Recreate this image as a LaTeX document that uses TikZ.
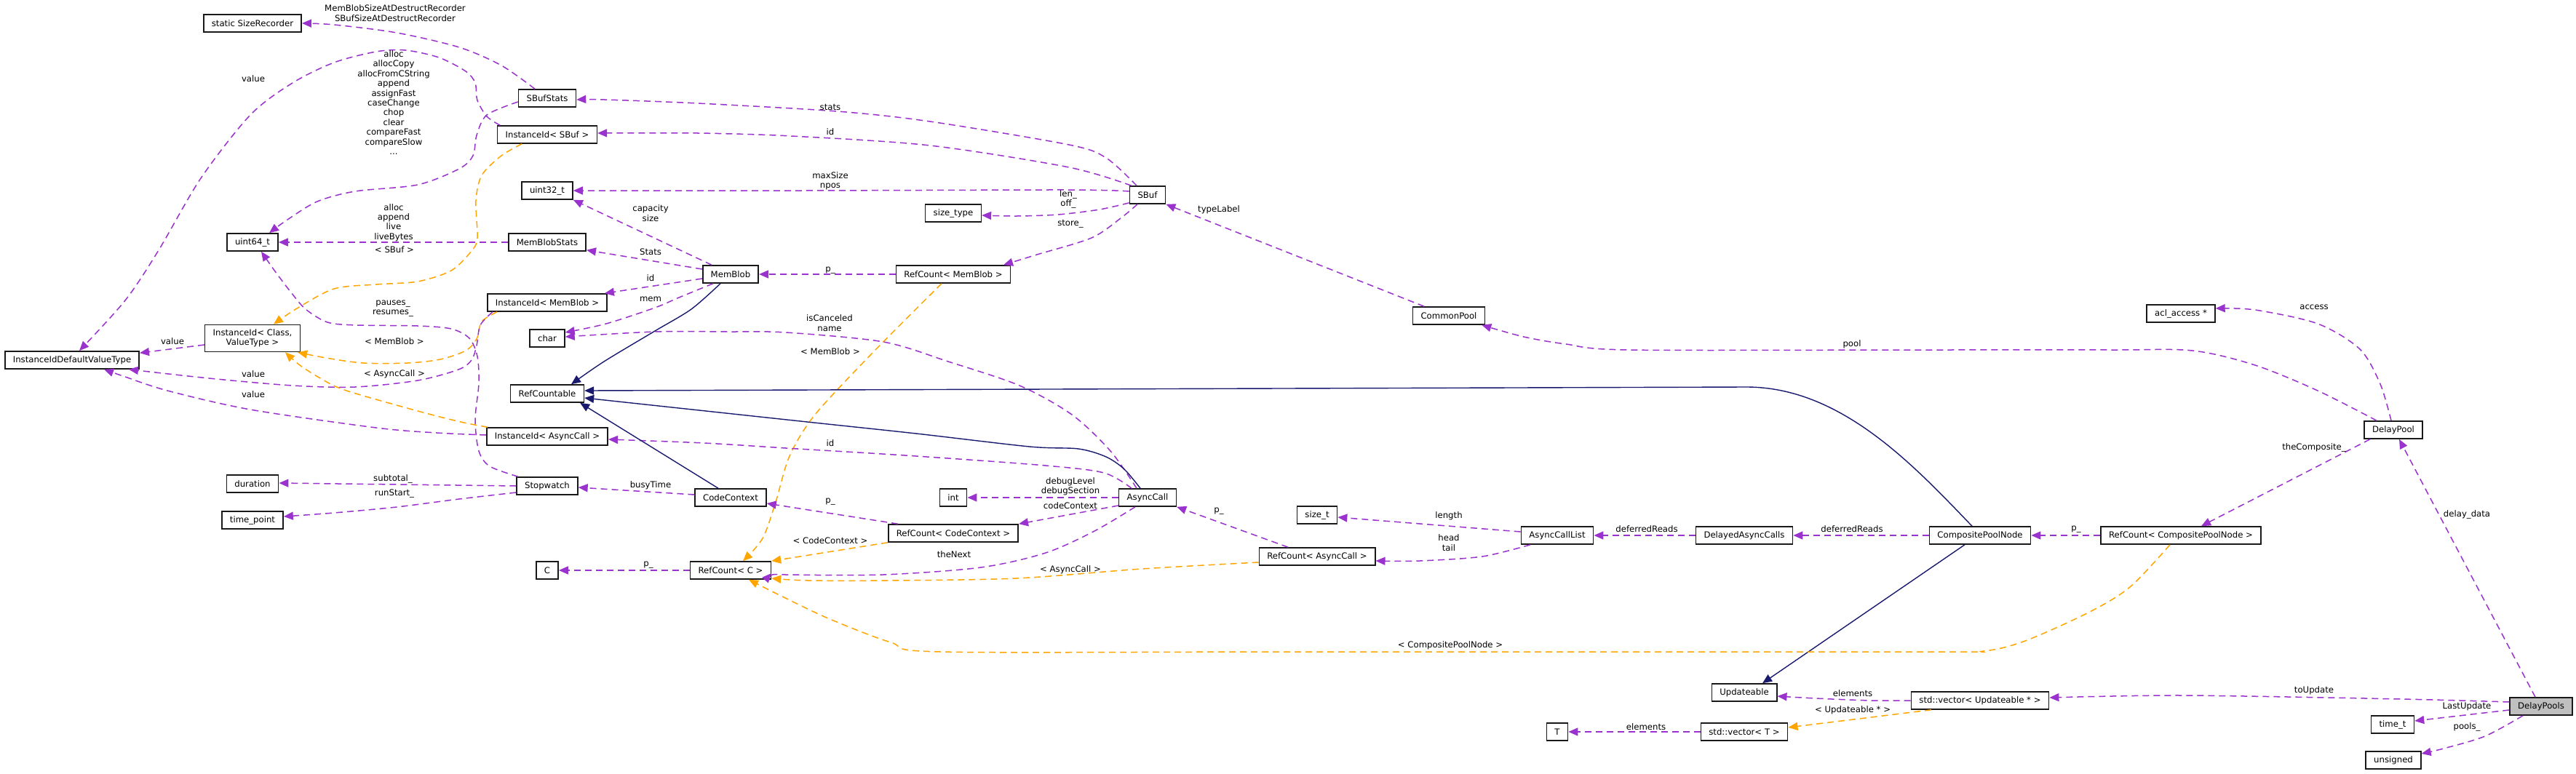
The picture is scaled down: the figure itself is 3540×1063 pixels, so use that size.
\documentclass[tikz,border=0pt]{standalone}
\usepackage{fontspec}
\setmainfont{DejaVu Sans}
\usetikzlibrary{arrows.meta,calc}
\definecolor{dpurple}{HTML}{9A32CD}
\definecolor{dorange}{HTML}{FFA500}
\definecolor{dnavy}{HTML}{191970}
\definecolor{dgray}{HTML}{BFBFBF}
\newcommand\dgfont{\fontsize{11.7}{13.4}\selectfont}
\begin{document}
\begin{tikzpicture}[x=1pt,y=-1pt,
  box/.style={draw=black!90, line width=1.6pt, fill=white, minimum height=24pt, inner xsep=11pt, inner ysep=2pt, font=\dgfont},
  lab/.style={font=\dgfont, align=center, inner sep=0pt},
  tip/.style={-{Triangle[length=13pt,width=11pt]}},
  pe/.style={draw=dpurple, line width=1.5pt, dash pattern=on 9pt off 6pt, tip, color=dpurple},
  oe/.style={draw=dorange, line width=1.5pt, dash pattern=on 9pt off 6pt, tip, color=dorange},
  ie/.style={draw=dnavy, line width=1.4pt, tip, color=dnavy}]
\fill[white] (0,0) rectangle (3540,1063);
\useasboundingbox (0,0) rectangle (3540,1063);

% nodes
\node[box] (sizerec) at (347,32) {static SizeRecorder};
\node[box] (sbufstats) at (752,135) {SBufStats};
\node[box] (iidsbuf) at (752,185) {InstanceId< SBuf >};
\node[box] (u32) at (752,262) {uint32\_t};
\node[box] (u64) at (347,333) {uint64\_t};
\node[box] (mbstats) at (752,333) {MemBlobStats};
\node[box] (iidmb) at (752,416) {InstanceId< MemBlob >};
\node[box] (chr) at (752,465) {char};
\node[box, align=center, minimum height=37pt] (iidcv) at (347,465) {InstanceId< Class,\\ValueType >};
\node[box] (iidvt) at (99,495) {InstanceIdDefaultValueType};
\node[box] (refcountable) at (752,541) {RefCountable};
\node[box] (iidac) at (752,600) {InstanceId< AsyncCall >};
\node[box] (stopwatch) at (752,668) {Stopwatch};
\node[box] (codectx) at (1004,684) {CodeContext};
\node[box] (memblob) at (1004,377) {MemBlob};
\node[box] (duration) at (347,665) {duration};
\node[box] (timepoint) at (347,715) {time\_point};
\node[box] (cc) at (752,784) {C};
\node[box] (rcc) at (1004,784) {RefCount< C >};
\node[box] (int) at (1310,684) {int};
\node[box] (asynccall) at (1577,684) {AsyncCall};
\node[box] (rccodectx) at (1310,733) {RefCount< CodeContext >};
\node[box] (rcac) at (1810,765) {RefCount< AsyncCall >};
\node[box] (sizetype) at (1310,293) {size\_type};
\node[box] (sbuf) at (1577,268) {SBuf};
\node[box] (rcmb) at (1310,377) {RefCount< MemBlob >};
\node[box] (commonpool) at (1991,434) {CommonPool};
\node[box] (sizet) at (1810,708) {size\_t};
\node[box] (aclist) at (2140,736) {AsyncCallList};
\node[box] (dac) at (2397,736) {DelayedAsyncCalls};
\node[box] (upd) at (2397,952) {Updateable};
\node[box] (tt) at (2140,1006) {T};
\node[box] (vect) at (2397,1006) {std::vector< T >};
\node[box] (vecupd) at (2721,963) {std::vector< Updateable * >};
\node[box] (cpn) at (2721,736) {CompositePoolNode};
\node[box] (rccpn) at (2997,736) {RefCount< CompositePoolNode >};
\node[box] (acl) at (2997,431) {acl\_access *};
\node[box] (delaypool) at (3289,591) {DelayPool};
\node[box, fill=dgray] (delaypools) at (3492,971) {DelayPools};
\node[box] (timet) at (3288,996) {time\_t};
\node[box] (unsigned) at (3289,1045) {unsigned};

% edges: left region
\draw[pe] plot[smooth] coordinates {([xshift=-17pt]sbufstats.north) (689,90) (631,65) (545,45) (459,34) (sizerec.east)};
\draw[pe] plot[smooth] coordinates {([yshift=-5pt]sbufstats.west) (669,158) (655,186) (650,214) (631,232) (574,254) (488,263) (436,277) (395,302) ([xshift=23pt]u64.north)};
\draw[pe] plot[smooth] coordinates {([xshift=-65pt]iidsbuf.north) (669,160) (656,138) (653,114) (640,98) (603,79) (557,69) (517,71) (459,86) (402,114) (344,158) (276,245) (218,344) (172,413) ([xshift=10pt]iidvt.north)};
\draw[oe] plot[smooth] coordinates {([xshift=-35pt]iidsbuf.south) (689,214) (662,241) (654,276) (656,327) (648,345) (620,372) (574,387) (517,391) (459,397) (408,424) ([xshift=29pt]iidcv.north)};
\draw[pe] (mbstats.west) -- (u64.east);
\draw[pe] plot[smooth] coordinates {([xshift=-40pt]stopwatch.north) (673,641) (658,620) (653,577) (658,527) (656,490) (645,465) (620,452) (574,448) (490,447) (450,443) (420,425) (400,402) (378,373) ([xshift=12pt]u64.south)};
\draw[oe] plot[smooth] coordinates {([xshift=-69pt]iidmb.south) (662,442) (655,466) (640,482) (605,494) (560,499) (499,499) (448,492) ([xshift=-4pt]iidcv.south east)};
\draw[pe] plot[smooth] coordinates {([xshift=-75pt]iidmb.south) (660,447) (655,475) (648,495) (630,508) (574,523) (488,532) (402,530) (287,520) ([xshift=-15pt]iidvt.south east)};
\draw[oe] plot[smooth] coordinates {([xshift=2pt]iidac.north west) (633,580) (574,565) (476,537) (442,521) (412,502) ([xshift=45pt]iidcv.south)};
\draw[pe] plot[smooth] coordinates {([yshift=2pt]iidac.west) (600,595) (517,588) (344,563) (230,537) (172,518) ([xshift=44pt]iidvt.south)};
\draw[pe] ([yshift=-9pt]iidcv.west) -- ([yshift=-3pt]iidvt.north east);

% SBuf related
\draw[pe] plot[smooth] coordinates {([xshift=-15pt]sbuf.north) (1520,217) (1469,199) (1278,167) (1150,153) (959,142) (831,137) ([yshift=-2pt]sbufstats.east)};
\draw[pe] plot[smooth] coordinates {([xshift=3pt]sbuf.north west) (1469,230) (1278,200) (1087,187) (959,183) ([yshift=2pt]iidsbuf.east)};
\draw[pe] plot[smooth] coordinates {([yshift=5pt]sbuf.west) (1469,261) (1100,262) (u32.east)};
\draw[pe] plot[smooth] coordinates {([yshift=2pt]sbuf.south west) (1511,288) (1454,295) (1397,297) ([yshift=-3pt]sizetype.east)};
\draw[pe] plot[smooth] coordinates {([xshift=-14pt]sbuf.south) (1540,300) (1500,327) (1425,350) ([xshift=69pt]rcmb.north)};
\draw[pe] (rcmb.west) -- (memblob.east);
\draw[oe] plot[smooth] coordinates {([xshift=-16pt]rcmb.south) (1201,483) (1120,570) (1085,627) (1066,690) (1048,740) ([xshift=17pt]rcc.north)};

% MemBlob
\draw[pe] ([xshift=-26pt]memblob.north) -- (u32.south east);
\draw[pe] ([yshift=7pt]memblob.west) -- ([yshift=2pt]mbstats.south east);
\draw[pe] ([yshift=-6pt]memblob.west) -- ([xshift=-4pt]iidmb.north east);
\draw[pe] plot[smooth] coordinates {([xshift=-24pt]memblob.south) (933,409) (900,423) (833,445) ([yshift=8pt]chr.east)};

% AsyncCall
\draw[pe] plot[smooth] coordinates {([xshift=-15pt]asynccall.north) (1526,620) (1473,570) (1401,530) (1303,497) (1214,470) (1080,457) (1000,456) (900,456) ([yshift=2pt]chr.east)};
\draw[pe] plot[smooth] coordinates {([xshift=-22pt]asynccall.north) (1517,650) (1437,640) (1259,627) (1080,616) (967,609) ([yshift=-4pt]iidac.east)};
\draw[pe] (asynccall.west) -- (int.east);
\draw[pe] ([yshift=-11pt]asynccall.west) -- (rccodectx.north east);
\draw[pe] plot[smooth] coordinates {([xshift=-17pt]asynccall.south) (1504,730) (1437,760) (1348,780) (1214,790) (1080,790) ([yshift=-4pt]rcc.east)};
\draw[pe] ([xshift=14pt]rccodectx.north west) -- ([yshift=-8pt]codectx.east);
\draw[oe] (rccodectx.south west) -- (rcc.north east);
\draw[pe] ([xshift=-40pt]rcac.north) -- (asynccall.south east);
\draw[oe] plot[smooth] coordinates {([yshift=-8pt]rcac.west) (1569,782) (1397,795) (1224,798) (1110,798) ([yshift=-11pt]rcc.east)};
\draw[pe] (rcc.west) -- (cc.east);
\draw[pe] ([yshift=4pt]codectx.west) -- ([yshift=-2pt]stopwatch.east);
\draw[pe] (stopwatch.west) -- ([yshift=1pt]duration.east);
\draw[pe] plot[smooth] coordinates {([yshift=-9pt]stopwatch.west) (631,686) (545,697) (459,705) ([yshift=5pt]timepoint.east)};

% inheritance
\draw[ie] plot[smooth] coordinates {([xshift=-14pt]memblob.south) (950,425) (900,455) (830,497) ([xshift=33pt]refcountable.north)};
\draw[ie] ([xshift=-11pt]cpn.north) .. controls (2630,640) and (2530,532) .. (2400,532) -- ([yshift=4pt]refcountable.east);
\draw[ie] plot[smooth] coordinates {([xshift=-10pt]asynccall.north) (1545,645) (1520,628) (1482,617) (1415,614) (1259,596) (1100,579) ([yshift=-6pt]refcountable.east)};
\draw[ie] ([xshift=-17pt]codectx.north) -- ([xshift=-6pt]refcountable.south east);
\draw[ie] ([xshift=-21pt]cpn.south) -- ([xshift=25pt]upd.north);

% right region
\draw[pe] (dac.west) -- (aclist.east);
\draw[pe] (cpn.west) -- (dac.east);
\draw[pe] ([yshift=5pt]aclist.west) -- ([yshift=-3pt]sizet.east);
\draw[pe] plot[smooth] coordinates {([xshift=-37pt]aclist.south) (2037,765) (1951,771) ([yshift=-6pt]rcac.east)};
\draw[pe] (rccpn.west) -- (cpn.east);
\draw[oe] plot[smooth] coordinates {([xshift=-15pt]rccpn.south) (2927,807) (2870,842) (2783,881) (2726,895) (2640,896) (1780,896) (1293,896) (1224,883) (1138,850) (1069,817) ([xshift=25pt]rcc.south)};
\draw[pe] ([xshift=-32pt]delaypool.south) -- ([xshift=28pt]rccpn.north);
\draw[pe] plot[smooth] coordinates {([xshift=-3pt]delaypool.north) (3271,528) (3243,480) (3185,445) (3099,426) ([yshift=7pt]acl.east)};
\draw[pe] plot[smooth] coordinates {([xshift=-23pt]delaypool.north) (3185,537) (3099,502) (3013,482) (2900,481) (2640,481) (2238,481) (2152,473) (2094,463) ([xshift=-5pt]commonpool.south east)};
\draw[pe] ([xshift=-34pt]commonpool.north) -- (sbuf.south east);
\draw[pe] ([xshift=-8pt]delaypools.north) -- ([xshift=8pt]delaypool.south);
\draw[pe] plot[smooth] coordinates {([yshift=6pt]delaypools.west) (3300,961) (3000,956) ([yshift=4pt]vecupd.east)};
\draw[pe] ([yshift=-5pt]delaypools.west) -- ([yshift=5pt]timet.east);
\draw[pe] plot[smooth] coordinates {([xshift=-25pt]delaypools.south) (3415,1012) (3358,1029) ([yshift=9pt]unsigned.east)};
\draw[pe] plot[smooth] coordinates {(vecupd.west) (2571,963) (2495,960) ([yshift=-5pt]upd.east)};
\draw[oe] ([xshift=-67pt]vecupd.south) -- ([yshift=6pt]vect.east);
\draw[pe] (vect.west) -- (tt.east);

% labels
\node[lab] (l1) at (543,18) {MemBlobSizeAtDestructRecorder\\SBufSizeAtDestructRecorder};
\node[lab] (l2) at (541,141) {alloc\\allocCopy\\allocFromCString\\append\\assignFast\\caseChange\\chop\\clear\\compareFast\\compareSlow\\...};
\node[lab] (l3) at (348,108) {value};
\node[lab] (l4) at (542,343) {< SBuf >};
\node[lab] (l5) at (541,306) {alloc\\append\\live\\liveBytes};
\node[lab] (l6) at (540,424) {pauses\_\\resumes\_};
\node[lab] (l7) at (542,469) {< MemBlob >};
\node[lab] (l8) at (237,469) {value};
\node[lab] (l9) at (348,514) {value};
\node[lab] (l10) at (542,514) {< AsyncCall >};
\node[lab] (l11) at (348,542) {value};
\node[lab] (l12) at (1141,147) {stats};
\node[lab] (l13) at (1141,181) {id};
\node[lab] (l14) at (1141,249) {maxSize\\npos};
\node[lab] (l15) at (1468,274) {len\_\\off\_};
\node[lab] (l16) at (1471,308) {store\_};
\node[lab] (l17) at (1141,372) {p\_};
\node[lab] (l18) at (894,293) {capacity\\size};
\node[lab] (l19) at (894,346) {Stats};
\node[lab] (l20) at (894,382) {id};
\node[lab] (l21) at (894,411) {mem};
\node[lab] (l22) at (1140,444) {isCanceled\\name};
\node[lab] (l23) at (1141,483) {< MemBlob >};
\node[lab] (l24) at (1141,609) {id};
\node[lab] (l25) at (1471,669) {debugLevel\\debugSection};
\node[lab] (l26) at (1471,695) {codeContext};
\node[lab] (l27) at (1141,690) {p\_};
\node[lab] (l28) at (1141,743) {< CodeContext >};
\node[lab] (l29) at (1311,762) {theNext};
\node[lab] (l30) at (1675,703) {p\_};
\node[lab] (l31) at (1471,783) {< AsyncCall >};
\node[lab] (l32) at (891,777) {p\_};
\node[lab] (l33) at (894,667) {busyTime};
\node[lab] (l34) at (540,658) {subtotal\_};
\node[lab] (l35) at (542,679) {runStart\_};
\node[lab] (l36) at (1675,288) {typeLabel};
\node[lab] (l37) at (2545,473) {pool};
\node[lab] (l38) at (1991,709) {length};
\node[lab] (l39) at (1991,746) {head\\tail};
\node[lab] (l40) at (2263,727) {deferredReads};
\node[lab] (l41) at (2545,727) {deferredReads};
\node[lab] (l42) at (2853,728) {p\_};
\node[lab] (l43) at (1993,887) {< CompositePoolNode >};
\node[lab] (l44) at (3180,615) {theComposite\_};
\node[lab] (l45) at (3180,422) {access};
\node[lab] (l46) at (3390,707) {delay\_data};
\node[lab] (l47) at (3180,949) {toUpdate};
\node[lab] (l48) at (3390,971) {LastUpdate};
\node[lab] (l49) at (3390,999) {pools\_};
\node[lab] (l50) at (2546,953) {elements};
\node[lab] (l51) at (2546,976) {< Updateable * >};
\node[lab] (l52) at (2262,999) {elements};
\end{tikzpicture}
\end{document}
